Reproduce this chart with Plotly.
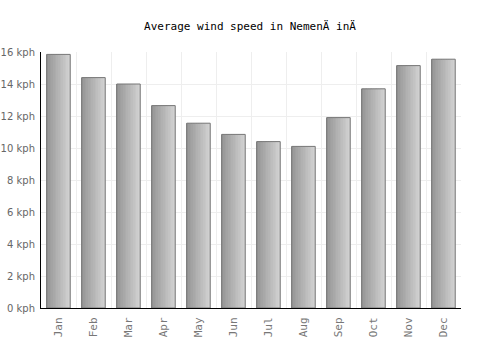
import plotly.graph_objects as go

months = ["Jan", "Feb", "Mar", "Apr", "May", "Jun", "Jul", "Aug", "Sep", "Oct", "Nov", "Dec"]
wind_kph = [15.85, 14.4, 14.0, 12.65, 11.55, 10.85, 10.4, 10.1, 11.9, 13.7, 15.15, 15.55]
y_ticks = [0, 2, 4, 6, 8, 10, 12, 14, 16]
y_tick_labels = [f"{v} kph" for v in y_ticks]
title_text = "Average wind speed in NemenÄ inÄ"

fig = go.Figure()

# gradient approximation with thin strips
bar_w = 0.67
n_strips = 14
c0 = (150, 150, 150)
c1 = (208, 208, 208)
for i in range(n_strips):
    t = i / (n_strips - 1)
    col = tuple(int(round(c0[k] + (c1[k] - c0[k]) * t)) for k in range(3))
    fig.add_trace(go.Bar(
        x=months, y=wind_kph,
        width=bar_w / n_strips + 0.002,
        offset=-bar_w / 2 + i * bar_w / n_strips,
        marker=dict(color=f"rgb{col}", line=dict(width=0)),
        hoverinfo="skip", showlegend=False,
    ))
# outline
fig.add_trace(go.Bar(
    x=months, y=wind_kph, width=bar_w, offset=-bar_w / 2,
    marker=dict(color="rgba(0,0,0,0)", line=dict(color="#777777", width=1)),
    showlegend=False,
))

fig.update_layout(
    barmode="overlay",
    width=500, height=350,
    margin=dict(l=41, r=39, t=52, b=42),
    paper_bgcolor="white", plot_bgcolor="white",
    title=dict(text=title_text, x=0.5, xanchor="center", y=1 - 26 / 350, yanchor="middle",
               font=dict(family="DejaVu Sans Mono", size=11, color="#000")),
    font=dict(family="DejaVu Sans", size=10, color="#666"),
)
fig.update_xaxes(
    type="category", tickangle=-90, tickson="boundaries", ticks="",
    showgrid=True, gridcolor="#eeeeee", gridwidth=1,
    showline=True, linecolor="#000", linewidth=1,
    tickfont=dict(family="DejaVu Sans Mono", size=11, color="#777"),
    range=[-0.5, 11.5], automargin=False, ticklabelstandoff=4,
)
fig.update_yaxes(
    range=[0, 16], tickvals=y_ticks, ticktext=y_tick_labels, ticks="",
    showgrid=True, gridcolor="#eeeeee", gridwidth=1,
    showline=True, linecolor="#000", linewidth=1,
    zeroline=False, automargin=False, ticklabelstandoff=3,
    tickfont=dict(family="DejaVu Sans", size=10, color="#666"),
)

fig.write_html("out.html")
